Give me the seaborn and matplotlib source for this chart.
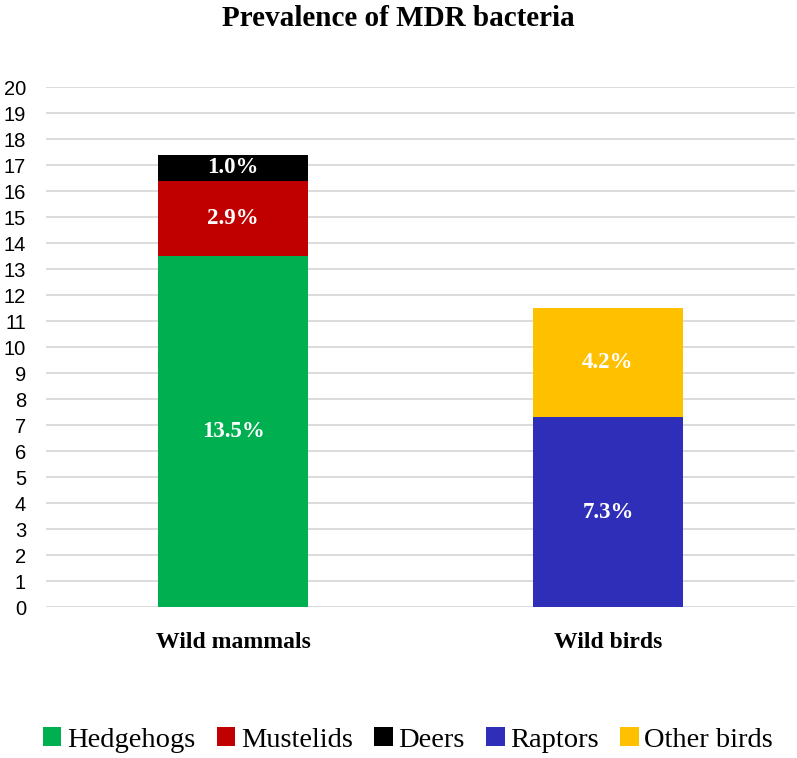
import pandas as pd
import seaborn as sns
import matplotlib.pyplot as plt
from matplotlib.patches import Patch

# data
groups = ['Wild mammals', 'Wild birds']
species = ['Hedgehogs', 'Mustelids', 'Deers', 'Raptors', 'Other birds']
species_group = ['Wild mammals', 'Wild mammals', 'Wild mammals', 'Wild birds', 'Wild birds']
values = [13.5, 2.9, 1.0, 7.3, 4.2]
colors = ['#00B050', '#C00000', '#000000', '#2E2EB8', '#FFC000']
yticks = list(range(0, 21))

df = pd.DataFrame({'group': species_group, 'species': species, 'value': values, 'color': colors})
df['top'] = df.groupby('group')['value'].cumsum()
df['bottom'] = df['top'] - df['value']

sns.set_style('white')
plt.rcParams['text.color'] = 'black'
plt.rcParams['xtick.color'] = 'black'
plt.rcParams['ytick.color'] = 'black'
serif = ['Liberation Serif', 'DejaVu Serif']
sans = ['Liberation Sans', 'DejaVu Sans']

fig = plt.figure(figsize=(7.97, 7.58), dpi=100)
ax = fig.add_axes([0.0571, 0.1992, 0.941, 0.686])

# stacked bars: draw the tallest cumulative segment first, lower ones on top
for _, row in df.sort_values('top', ascending=False).iterrows():
    sns.barplot(data=df[df['species'] == row['species']], x='group', y='top', order=groups,
                color=row['color'], width=0.4, saturation=1, linewidth=0, ax=ax, zorder=2)

# segment labels
for _, row in df.iterrows():
    xi = groups.index(row['group'])
    ax.text(xi, row['bottom'] + row['value'] / 2, f"{row['value']:.1f}%", ha='center', va='center',
            color='white', fontsize=16.5, fontweight='bold', family=serif, zorder=3)

ax.set_ylim(0, 20)
ax.set_xlim(-0.5, 1.5)
ax.set_yticks(yticks)
ax.set_yticklabels([str(t) for t in yticks], family=sans, fontsize=14.5)
ax.set_xticks(range(len(groups)))
ax.set_xticklabels(groups, family=serif, fontsize=17, fontweight='bold')
ax.tick_params(axis='y', length=0, pad=14)
ax.tick_params(axis='x', length=0, pad=18)
ax.set_xlabel('')
ax.set_ylabel('')
ax.grid(axis='y', color='#D9D9D9', linewidth=1.3, zorder=0)
ax.set_axisbelow(True)
for s in ax.spines.values():
    s.set_visible(False)

fig.suptitle('Prevalence of MDR bacteria', y=0.993, va='top', fontsize=21, fontweight='bold', family=serif)

handles = [Patch(facecolor=c, edgecolor='none') for c in colors]
fig.legend(handles, species, loc='center', bbox_to_anchor=(0.512, 0.024), ncol=5, frameon=False,
           prop={'family': serif, 'size': 20.5}, handlelength=0.65, handleheight=0.65,
           handletextpad=0.2, columnspacing=0.75)

fig.savefig('out.png', dpi=100)
